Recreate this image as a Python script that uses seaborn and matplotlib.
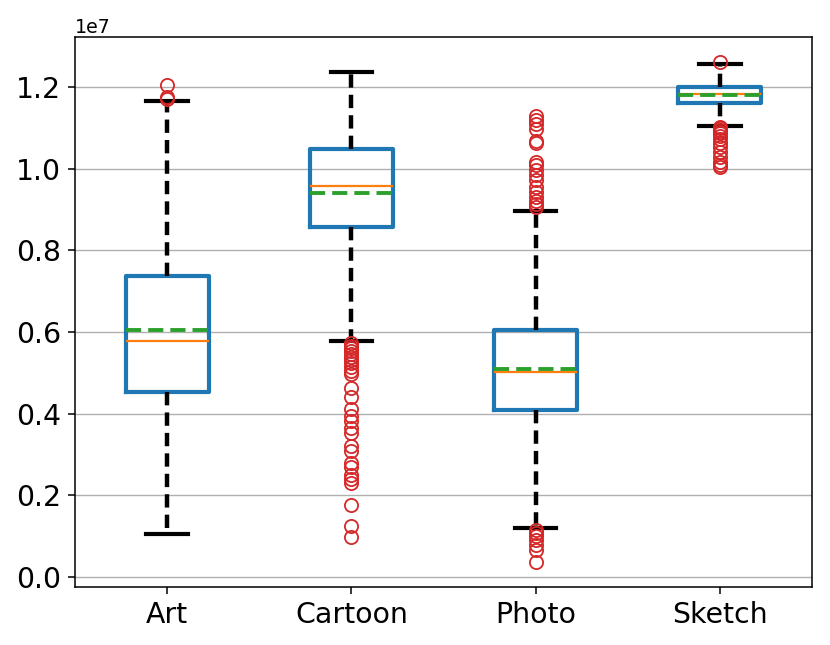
import numpy as np
import pandas as pd
import matplotlib
matplotlib.use("Agg")
import matplotlib.pyplot as plt
import seaborn as sns

# ---- values (units: raw, axis shows 1e7) ----
categories = ["Art", "Cartoon", "Photo", "Sketch"]
q1 = [4.52e6, 8.58e6, 4.10e6, 11.613e6]
medians = [5.79e6, 9.58e6, 5.03e6, 11.82e6]
q3 = [7.38e6, 10.47e6, 6.05e6, 11.996e6]
means = [6.05e6, 9.40e6, 5.087e6, 11.81e6]
whisker_low = [1.053e6, 5.77e6, 1.20e6, 11.04e6]
whisker_high = [11.66e6, 12.37e6, 8.97e6, 12.565e6]

art_fliers = [11.71e6, 11.76e6, 12.06e6]
cartoon_fliers = [5.72e6, 5.66e6, 5.60e6, 5.53e6, 5.46e6, 5.39e6, 5.32e6, 5.24e6,
                  5.14e6, 5.05e6, 4.97e6, 4.63e6, 4.41e6, 4.11e6, 3.94e6, 3.82e6,
                  3.65e6, 3.53e6, 3.21e6, 3.09e6, 2.79e6, 2.69e6, 2.50e6, 2.40e6,
                  2.30e6, 1.76e6, 1.25e6, 0.98e6]
photo_fliers = [9.06e6, 9.14e6, 9.22e6, 9.30e6, 9.44e6, 9.56e6, 9.72e6, 9.85e6,
                9.97e6, 10.09e6, 10.17e6, 10.62e6, 10.68e6, 10.98e6, 11.10e6,
                11.20e6, 11.30e6,
                1.15e6, 1.08e6, 1.00e6, 0.91e6, 0.78e6, 0.66e6, 0.37e6]
sketch_fliers = [12.605e6,
                 11.025e6, 10.99e6, 10.95e6, 10.91e6, 10.87e6, 10.80e6, 10.72e6,
                 10.62e6, 10.52e6, 10.40e6, 10.28e6, 10.17e6, 10.08e6, 10.03e6]
fliers = [art_fliers, cartoon_fliers, photo_fliers, sketch_fliers]

# ---- long-form table whose box statistics equal the values above ----
REPEAT = 100
rows = []
for i, cat in enumerate(categories):
    vals = (list(fliers[i]) + [whisker_low[i], whisker_high[i]]
            + [q1[i]] * REPEAT + [medians[i]] * REPEAT + [q3[i]] * REPEAT)
    rows += [(cat, v) for v in vals]
df = pd.DataFrame(rows, columns=["domain", "value"])

# ---- figure ----
W, H = 830, 645
fig = plt.figure(figsize=(W / 100, H / 100), dpi=100)
ax = fig.add_axes([75 / W, 1 - 587 / H, (812 - 75) / W, (587 - 37) / H])

box_w = 0.45
blue, orange, green, red = "#1f77b4", "#ff7f0e", "#2ca02c", "#d62728"

sns.boxplot(
    data=df, x="domain", y="value", order=categories, ax=ax,
    fill=False, width=box_w, whis=1.5, saturation=1, color=blue,
    boxprops=dict(color=blue, linewidth=3.0),
    medianprops=dict(color=orange, linewidth=1.6),
    whiskerprops=dict(color="black", linewidth=3.2, linestyle=(0, (3.0, 1.6))),
    capprops=dict(color="black", linewidth=3.0),
    flierprops=dict(marker="o", markeredgecolor=red, markerfacecolor="none",
                    markersize=9.5, markeredgewidth=1.3),
)

# mean lines (green dashed) across each box
pos = np.arange(len(categories))
ax.hlines(means, pos - box_w / 2, pos + box_w / 2, colors=green,
          linewidth=2.8, linestyles=(0, (3.9, 1.8)), zorder=3)

ax.set_xlim(-0.5, len(categories) - 0.5)
ax.set_ylim(-0.245e6, 13.225e6)
ax.set_yticks([0, 2e6, 4e6, 6e6, 8e6, 10e6, 12e6])
ax.set_xlabel("")
ax.set_ylabel("")

ax.yaxis.grid(True, color="#b0b0b0", linewidth=1.0)
ax.xaxis.grid(False)
ax.set_axisbelow(True)

ax.tick_params(axis="both", labelsize=20.4, length=5, width=1.1, pad=5)
ax.yaxis.get_offset_text().set_fontsize(13.7)
for s in ax.spines.values():
    s.set_linewidth(1.1)
    s.set_color("black")

fig.savefig("out.png", dpi=100)
